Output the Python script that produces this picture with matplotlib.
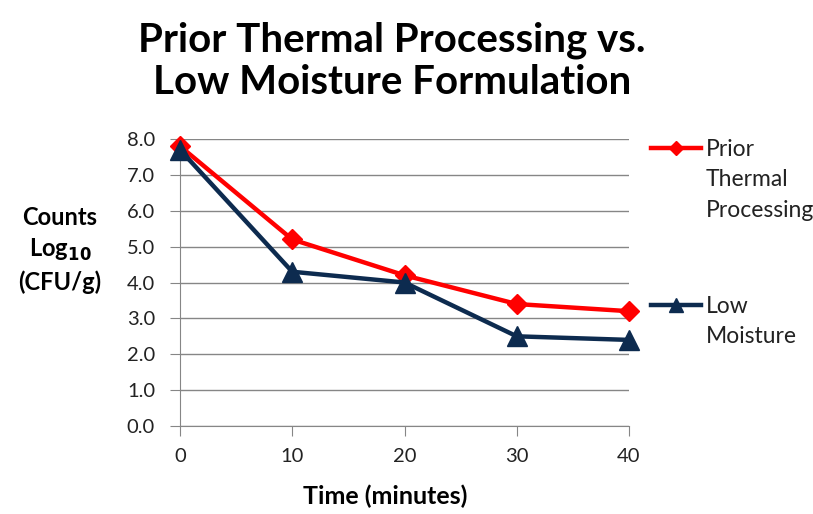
import matplotlib
matplotlib.use("Agg")
import matplotlib.pyplot as plt
from matplotlib.lines import Line2D

# Survival counts over time for the two treatments
minutes = [0, 10, 20, 30, 40]
prior_thermal = [7.8, 5.2, 4.2, 3.4, 3.2]
low_moisture = [7.7, 4.3, 4.0, 2.5, 2.4]
y_ticks = [0, 1, 2, 3, 4, 5, 6, 7, 8]

RED = "#ff0000"
NAVY = "#0d2b4f"
GRAY = "#868686"

plt.rcParams["font.family"] = ["Lato", "DejaVu Sans"]

fig = plt.figure(figsize=(8.13, 5.14), dpi=100)
ax = fig.add_axes([180 / 813, 1 - 426 / 514, 449 / 813, 287 / 514])

ax.plot(minutes, prior_thermal, color=RED, lw=3.2, marker="D", ms=10,
        clip_on=False, zorder=3)
ax.plot(minutes, low_moisture, color=NAVY, lw=3.2, marker="^", ms=14,
        clip_on=False, zorder=4)

ax.set_xlim(0, 40)
ax.set_ylim(0, 8)
ax.set_xticks(minutes)
ax.set_yticks(y_ticks)
ax.set_yticklabels([f"{v:.1f}" for v in y_ticks])
ax.grid(axis="y", color=GRAY, lw=1)
ax.set_axisbelow(True)
for side in ("top", "right"):
    ax.spines[side].set_visible(False)
for side in ("left", "bottom"):
    ax.spines[side].set_color(GRAY)
ax.tick_params(axis="both", direction="out", length=7, color=GRAY,
               labelsize=14.5, labelcolor="#222222")
ax.tick_params(axis="x", pad=9)
ax.tick_params(axis="y", pad=11)

fig.text(0.482, 1 - 61 / 514, "Prior Thermal Processing vs.\nLow Moisture Formulation",
         ha="center", va="center", fontsize=29, fontweight="bold",
         linespacing=1.16)
fig.text(385 / 813, 1 - 496 / 514, "Time (minutes)", ha="center", va="center",
         fontsize=18, fontweight="bold")
fig.text(60 / 813, 1 - 250 / 514, "Counts\nLog$_{\\mathbf{10}}$\n(CFU/g)",
         ha="center", va="center", fontsize=17, fontweight="bold",
         linespacing=1.4)

# legend entries with the marker beside the first text line
entries = [(prior_thermal, RED, "D", 7, "Prior\nThermal\nProcessing", 148),
           (low_moisture, NAVY, "^", 10, "Low\nMoisture", 305)]
for _, color, marker, ms, label, ypix in entries:
    yf = 1 - ypix / 514
    fig.add_artist(Line2D([651 / 813, 701 / 813], [yf, yf], color=color,
                          lw=3.2, transform=fig.transFigure))
    fig.add_artist(Line2D([676 / 813], [yf], color=color, marker=marker,
                          ms=ms, transform=fig.transFigure))
    fig.text(706 / 813, yf + 9 / 514, label, ha="left", va="top",
             fontsize=16.5, color="#222222", linespacing=1.55)

fig.savefig("out.png", dpi=100)
